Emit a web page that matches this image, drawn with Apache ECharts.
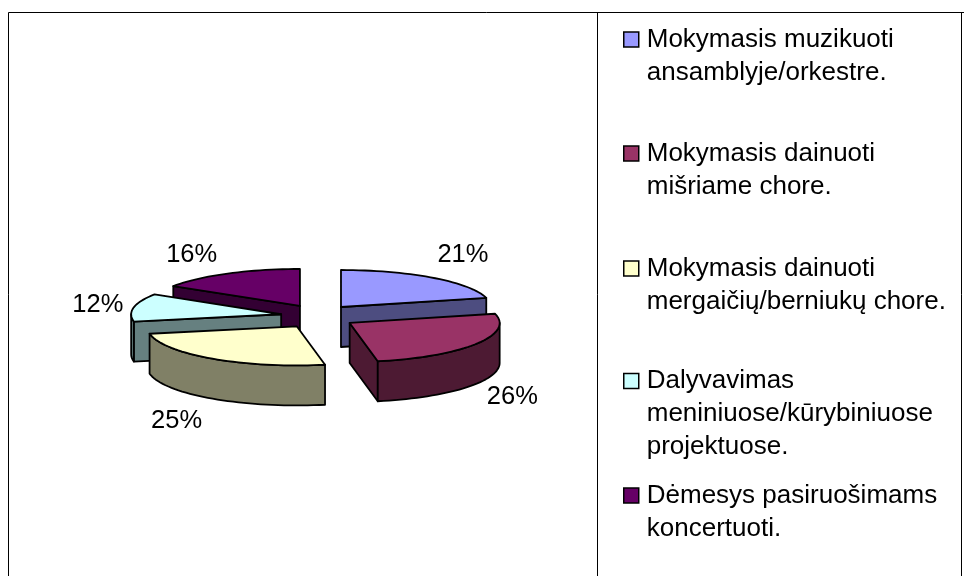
<!DOCTYPE html>
<html>
<head>
<meta charset="utf-8">
<style>html,body{margin:0;padding:0;background:#fff}#c{width:964px;height:576px}</style>
<script src="https://cdn.jsdelivr.net/npm/echarts@6/dist/echarts.min.js"></script>
</head>
<body>
<div id="c"></div>
<script>
const categories = [
  "Mokymasis muzikuoti\nansamblyje/orkestre.",
  "Mokymasis dainuoti\nmišriame chore.",
  "Mokymasis dainuoti\nmergaičių/berniukų chore.",
  "Dalyvavimas\nmeniniuose/kūrybiniuose\nprojektuose.",
  "Dėmesys pasiruošimams\nkoncertuoti."
];
const values = [21, 26, 25, 12, 16];
const topColors = ["#9999FF", "#993366", "#FFFFCC", "#CCFFFF", "#660066"];
const wallColors = ["#4D4D80", "#4D1A33", "#808066", "#668080", "#330033"];
const drawOrder = [0, 1, 4, 3, 2];
const legendFirstLineY = [39.5, 153.5, 268.5, 381, 495.5];
const labelNudge = [[-6, -2], [0, -1], [0, 1], [0, 3], [0, 4]];

const FONT = '"Liberation Sans", Arial, sans-serif';
const PIE = {cx: 318, cy: 316.5, rx: 150, ryBack: 37, ryFront: 39, depth: 40, explodeX: 37.5, explodeY: 12};
const LEGEND_LINE = 33;
const total = values.reduce((a, b) => a + b, 0);

function angleRange(i) {
  let s = 0;
  for (let k = 0; k < i; k++) s += values[k];
  return [s / total * 2 * Math.PI, (s + values[i]) / total * 2 * Math.PI];
}
function rim(apex, t) {
  const c = Math.cos(t);
  return [apex[0] + PIE.rx * Math.sin(t), apex[1] - (c > 0 ? PIE.ryBack : PIE.ryFront) * c];
}
function arcPoints(apex, a, b) {
  const n = Math.max(2, Math.ceil((b - a) / 0.04));
  const pts = [];
  for (let k = 0; k <= n; k++) pts.push(rim(apex, a + (b - a) * k / n));
  return pts;
}
const down = p => [p[0], p[1] + PIE.depth];
const LINE = {stroke: "#000", lineWidth: 1.8, lineJoin: "round"};

function renderSlice(i) {
  const [a, b] = angleRange(i);
  const mid = (a + b) / 2;
  const apex = [PIE.cx + PIE.explodeX * Math.sin(mid), PIE.cy - PIE.explodeY * Math.cos(mid)];
  const children = [];
  const poly = (points, fill) => children.push({type: "polygon", shape: {points}, style: Object.assign({fill}, LINE)});
  const wall = wallColors[i];
  const radialWall = t => {
    const r = rim(apex, t);
    poly([apex, r, down(r), down(apex)], wall);
  };
  if (Math.sin(a) < -1e-6) radialWall(a);
  if (Math.sin(b) > 1e-6) radialWall(b);
  const fa = Math.max(a, Math.PI / 2), fb = Math.min(b, 1.5 * Math.PI);
  if (fb > fa) {
    const arc = arcPoints(apex, fa, fb);
    poly(arc.concat(arc.slice().reverse().map(down)), wall);
  }
  poly([apex].concat(arcPoints(apex, a, b)), topColors[i]);
  const r = rim(apex, mid);
  const c = Math.cos(mid);
  children.push({
    type: "text",
    style: {
      text: values[i] + "%",
      x: r[0] + 36 * Math.sign(Math.sin(mid)) + labelNudge[i][0],
      y: r[1] - 26 * c + (c < 0 ? PIE.depth : 0) + labelNudge[i][1],
      fill: "#000", font: "25.5px " + FONT, align: "center", verticalAlign: "middle"
    }
  });
  return {type: "group", children};
}

const frameLine = (x1, y1, x2, y2) => ({
  type: "line", silent: true,
  shape: {x1, y1, x2, y2},
  style: {stroke: "#000", lineWidth: 1}
});

const legends = categories.map((name, i) => {
  const lines = name.split("\n").length;
  const blockLines = 2 * lines - 1;
  return {
    left: 623,
    top: legendFirstLineY[i] - (blockLines * LEGEND_LINE + 4) / 2,
    padding: 0,
    orient: "vertical",
    itemWidth: 15, itemHeight: 15,
    selectedMode: false,
    data: [{name, icon: "rect", itemStyle: {color: topColors[i], borderColor: "#000", borderWidth: 1.5}}],
    formatter: n => "\n".repeat(n.split("\n").length - 1) + n,
    textStyle: {fontFamily: FONT, fontSize: 26, lineHeight: LEGEND_LINE, color: "#000", padding: [0, 0, 4, 3]}
  };
});

const chart = echarts.init(document.getElementById("c"), null, {renderer: "canvas"});
chart.setOption({
  animation: false,
  backgroundColor: "#fff",
  tooltip: {show: false},
  legend: legends,
  graphic: [
    frameLine(8.5, 12.5, 964, 12.5),
    frameLine(8.5, 12.5, 8.5, 576),
    frameLine(597.5, 12.5, 597.5, 576),
    frameLine(961.5, 12.5, 961.5, 576)
  ],
  series: drawOrder.map(i => ({
    type: "custom",
    name: categories[i],
    coordinateSystem: "none",
    silent: true,
    itemStyle: {color: topColors[i]},
    data: [[values[i]]],
    renderItem: () => renderSlice(i)
  }))
});
</script>
</body>
</html>
